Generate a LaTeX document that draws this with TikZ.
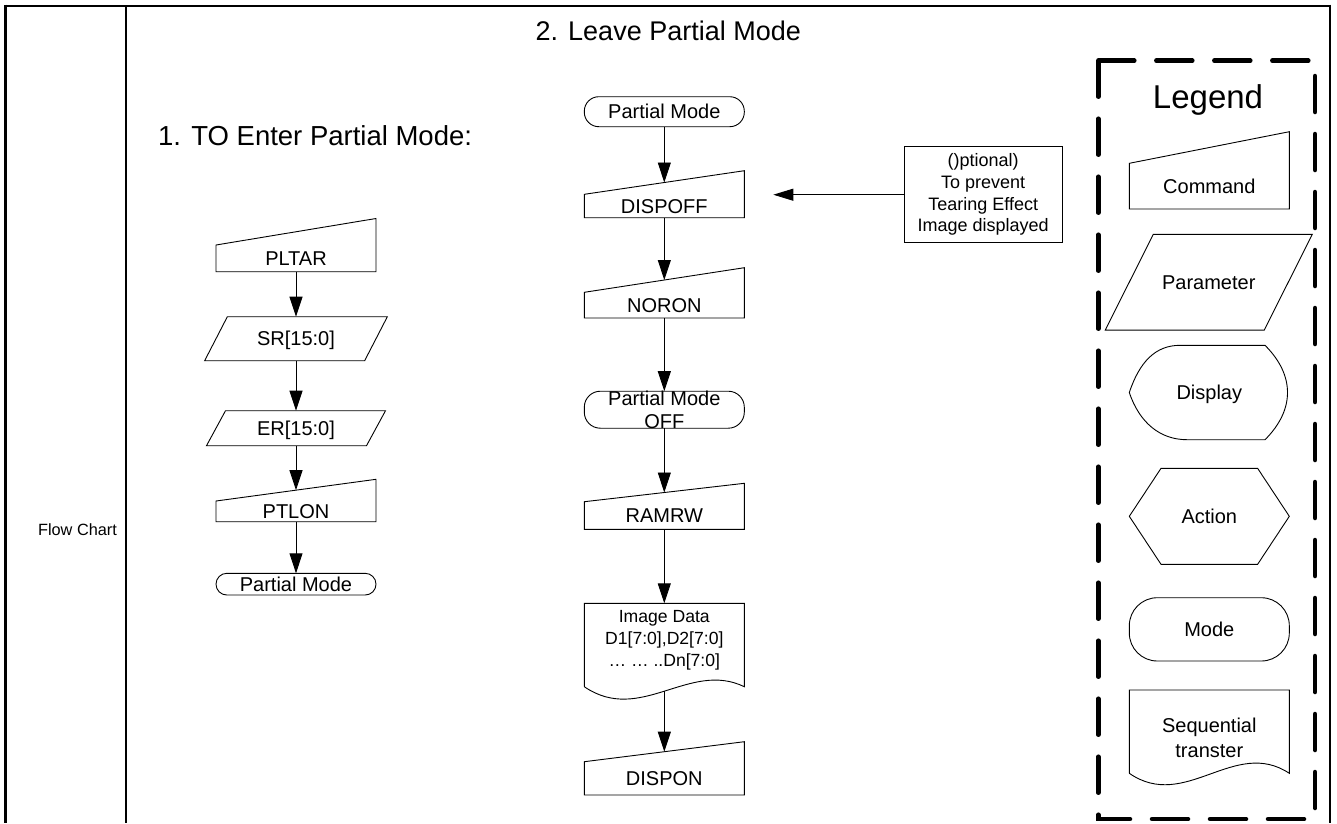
\documentclass[tikz,border=0pt]{standalone}
\usepackage{fontspec}
\setmainfont{Liberation Sans}
\usetikzlibrary{arrows.meta,calc}
\tikzset{
  shp/.style={draw=black, line width=0.9pt},
  box/.style={inner sep=0pt, outer sep=0pt, minimum width=160pt, font=\fontsize{20}{22.3}\selectfont, align=center},
  one/.style={text height=14.3pt, text depth=0pt},
  arr/.style={draw=black, line width=0.9pt, -{Triangle[length=20pt,width=13pt]}},
  frame/.style={draw=black, line width=2pt},
}
\newcommand\cmdout[2]{\draw[shp] (#1.south west) -- (#1.south east) -- ([yshift=#2pt]#1.north east) -- (#1.north west) -- cycle;}
\newcommand\parout[2]{\draw[shp] ([xshift=#2pt]#1.north west) -- ([xshift=#2pt]#1.north east) -- ([xshift=-#2pt]#1.south east) -- ([xshift=-#2pt]#1.south west) -- cycle;}
\newcommand\modeout[2]{\draw[shp,rounded corners=#2pt] (#1.south west) rectangle (#1.north east);}
\newcommand\docout[4]{\draw[shp] ($(#1.south west)+(0,#2)$) -- (#1.north west) -- (#1.north east) -- ($(#1.south east)+(0,#2)$) .. controls ($(#1.south west)!0.657!(#1.south east)+(0,#4)$) and ($(#1.south west)!0.35!(#1.south east)+(0,#3)$) .. ($(#1.south west)+(0,#2)$);}
\begin{document}
\begin{tikzpicture}[x=1pt,y=-1pt]
\useasboundingbox (0,0) rectangle (1337,823);
% frame
\draw[frame] (4,5.5) -- (1330.5,5.5);
\draw[frame, line width=3.3pt] (5.6,4.5) -- (5.6,823);
\draw[frame] (126,5.5) -- (126,823);
\draw[frame] (1329.5,4.5) -- (1329.5,823);
% titles
\node[font=\fontsize{16.3}{20}\selectfont, inner sep=0pt, text height=11.7pt, text depth=0pt] (fc) at (77.5,530) {Flow Chart};
\node[anchor=base west, font=\fontsize{27}{32}\selectfont, inner sep=0pt] (t2) at (535.5,40) {2. Leave Partial Mode};
\node[anchor=base west, font=\fontsize{27.5}{32}\selectfont, inner sep=0pt] (t1) at (158,145) {1. TO Enter Partial Mode:};
% left flow
\node[box,one,minimum height=26.7pt] (pltar) at (296,258.35) {PLTAR};
\cmdout{pltar}{26.5}
\node[box,one,minimum height=44pt] (sr) at (296,338.7) {SR[15:0]};
\parout{sr}{11.35}
\node[box,one,minimum height=35pt] (er) at (296,428.2) {ER[15:0]};
\parout{er}{9.5}
\node[box,one,minimum height=20.7pt] (ptlon) at (296,511.35) {PTLON};
\cmdout{ptlon}{21.7}
\node[box,one,minimum height=21.7pt] (pmL) at (296,584.15) {Partial Mode};
\modeout{pmL}{10.8}
\draw[arr] (pltar.south) -- (sr.north);
\draw[arr] (sr.south) -- (er.north);
\draw[arr] (er.south) -- ([yshift=10.85pt]ptlon.north);
\draw[arr] (ptlon.south) -- (pmL.north);
% middle flow
\node[box,one,minimum height=30pt] (pm) at (664.3,111.7) {Partial Mode};
\modeout{pm}{14.5}
\node[box,one,minimum height=23.4pt] (dispoff) at (664.3,206) {DISPOFF};
\cmdout{dispoff}{23.6}
\node[box,one,minimum height=25.7pt] (noron) at (664.3,305.15) {NORON};
\cmdout{noron}{24.6}
\node[box,minimum height=36pt] (pmoff) at (664.3,409.7) {Partial Mode\\OFF};
\modeout{pmoff}{16}
\node[box,one,minimum height=27.6pt] (ramrw) at (664.3,515.5) {RAMRW};
\cmdout{ramrw}{18.4}
\node[box,minimum height=73.4pt,font=\fontsize{17.6}{22}\selectfont] (imgdata) at (664.3,640) {Image Data\\D1[7:0],D2[7:0]\\… … ..Dn[7:0]};
\docout{imgdata}{10}{48.3}{-16.7}
\node[box,one,minimum height=33.3pt] (dispon) at (664.3,778.35) {DISPON};
\cmdout{dispon}{20}
\draw[arr] (pm.south) -- ([yshift=11.8pt]dispoff.north);
\draw[arr] (dispoff.south) -- ([yshift=12.3pt]noron.north);
\draw[arr] (noron.south) -- (pmoff.north);
\draw[arr] (pmoff.south) -- ([yshift=9.2pt]ramrw.north);
\draw[arr] (ramrw.south) -- (imgdata.north);
\draw[arr] ($(imgdata.south)+(0,14.35)$) -- ([yshift=10pt]dispon.north);
% optional note
\node[shp, inner sep=0pt, outer sep=0pt, minimum width=157.7pt, minimum height=96pt, align=center, font=\fontsize{18}{21.7}\selectfont] (opt) at (983.2,194.7) {()ptional)\\To prevent\\Tearing Effect\\Image displayed};
\coordinate (optend) at (773.3,194.7);
\draw[arr, -{Triangle[length=20pt,width=12pt]}] (opt.west) -- (optend);
% legend
\draw[line width=4.5pt, dash pattern=on 36pt off 22pt, line cap=round] (1098.3,60.7) rectangle (1315,819);
\node[anchor=base, font=\fontsize{33}{38}\selectfont, inner sep=0pt] (leg) at (1208,108.3) {Legend};
\node[box,one,minimum height=45.7pt] (lcmd) at (1209.3,186.15) {Command};
\cmdout{lcmd}{31.6}
\node[box,one,minimum width=159pt,minimum height=95.7pt] (lpar) at (1208.75,282.2) {Parameter};
\parout{lpar}{24}
\node[box,one,minimum height=94.4pt] (dsp) at (1209.3,392.5) {Display};
\draw[shp] (dsp.west) .. controls +(10,-30) and +(-25,0) .. ([xshift=50.7pt]dsp.north west) -- ([xshift=-24.3pt]dsp.north east) .. controls +(30,30) and +(30,-30) .. ([xshift=-24.3pt]dsp.south east) -- ([xshift=57.7pt]dsp.south west) .. controls +(-27,0) and +(10,30) .. (dsp.west) -- cycle;
\node[box,one,minimum height=96pt] (act) at (1209.3,516.3) {Action};
\draw[shp] (act.west) -- ([xshift=31.7pt]act.north west) -- ([xshift=-31.7pt]act.north east) -- (act.east) -- ([xshift=-31.7pt]act.south east) -- ([xshift=31.7pt]act.south west) -- cycle;
\node[box,one,minimum height=63.3pt] (mode) at (1209.3,629.35) {Mode};
\modeout{mode}{28}
\node[box,minimum height=95pt,font=\fontsize{20}{25}\selectfont] (seq) at (1209.3,737.5) {Sequential\\transter};
\docout{seq}{-11.7}{27}{-48}
\end{tikzpicture}
\end{document}
